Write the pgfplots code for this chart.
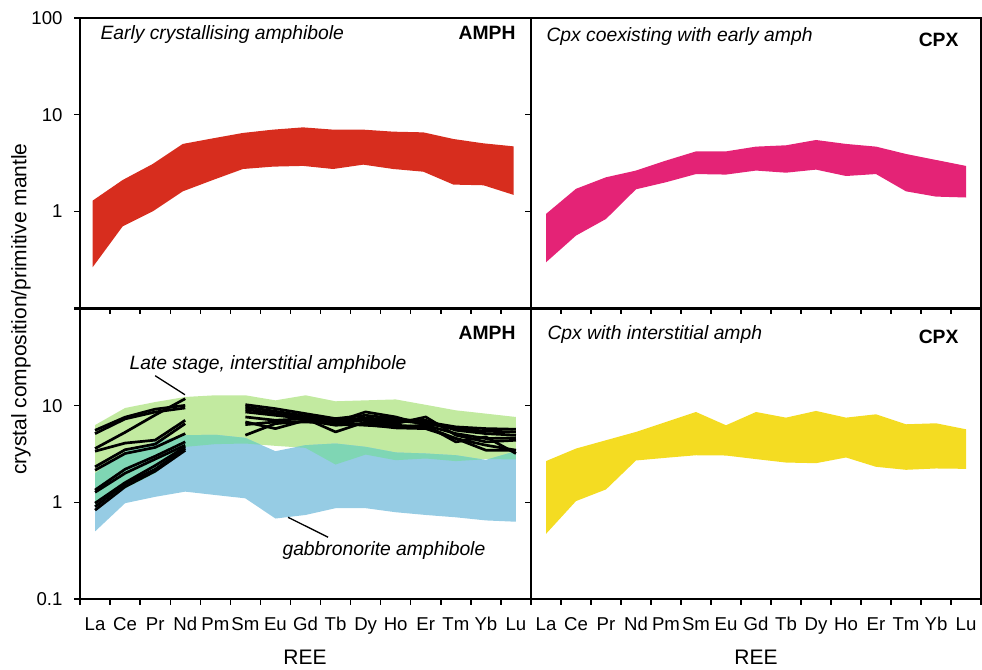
\documentclass[border=0pt]{standalone}
\usepackage{pgfplots}
\pgfplotsset{compat=1.18}
\usepackage{fontspec}
\setmainfont{Liberation Sans}
\definecolor{cred}{HTML}{D72D1E}
\definecolor{cpink}{HTML}{E42376}
\definecolor{cyel}{HTML}{F4DC22}
\definecolor{cgreen}{HTML}{C2EAA0}
\definecolor{cteal}{HTML}{7FD6B4}
\definecolor{cblue}{HTML}{96CCE4}
\newcommand{\fs}{\fontsize{18.6}{22}\selectfont}
\newcommand{\ft}{\fontsize{19.3}{23}\selectfont}
\newcommand{\fl}{\fontsize{21}{25}\selectfont}
\pgfplotsset{
 mypanel/.style={
  scale only axis, width=451pt, height=290pt,
  ymin=0.1, ymax=100, xmin=0.5, xmax=15.5,
  axis line style={line width=1.6pt},
  tick style={black, line width=1.4pt},
  tick align=outside, xtick pos=left, ytick pos=left,
  yminorticks=false, major tick length=6pt,
  xtick={0.5,1.5,...,15.5}, xticklabels={},
  ytick={0.1,1,10,100}, yticklabels={},
  tick label style={font=\fs},
  yticklabel style={xshift=-8pt},
 },
 myree/.style={
  extra x ticks={1,2,...,15},
  extra x tick labels={La,Ce,Pr,Nd,Pm,Sm,Eu,Gd,Tb,Dy,Ho,Er,Tm,Yb,Lu},
  extra x tick style={major tick length=0pt, xticklabel style={anchor=base, yshift=-31pt}},
 },
 myband/.style={draw=none, fill=#1, forget plot},
 myln/.style={black, line width=2.7pt, line join=round, forget plot},
}
\begin{document}
\begin{tikzpicture}
% top left
\begin{semilogyaxis}[mypanel, at={(80pt,361pt)}, anchor=south west, yticklabels={{},1,10,100}]
\addplot[myband=cred] coordinates {(0.92,1.29) (1.92,2.11) (2.92,3.09) (3.92,4.98) (4.92,5.69) (5.92,6.47) (6.92,7.0) (7.92,7.39) (8.92,7.0) (9.92,7.0) (10.92,6.67) (11.92,6.56) (12.92,5.6) (13.92,5.05) (14.92,4.7)
 (14.92,1.48) (13.92,1.86) (12.92,1.89) (11.92,2.57) (10.92,2.74) (9.92,3.04) (8.92,2.74) (7.92,2.95) (6.92,2.9) (5.92,2.74) (4.92,2.11) (3.92,1.61) (2.92,1.0) (1.92,0.70) (0.92,0.264)} -- cycle;
\end{semilogyaxis}
% top right
\begin{semilogyaxis}[mypanel, at={(531pt,361pt)}, anchor=south west, width=450pt]
\addplot[myband=cpink] coordinates {(1,0.94) (2,1.71) (3,2.25) (4,2.64) (5,3.35) (6,4.17) (7,4.17) (8,4.67) (9,4.82) (10,5.47) (11,4.98) (12,4.67) (13,3.92) (14,3.40) (15,2.95)
 (15,1.39) (14,1.42) (13,1.61) (12,2.43) (11,2.32) (10,2.70) (9,2.51) (8,2.64) (7,2.40) (6,2.43) (5,2.0) (4,1.69) (3,0.834) (2,0.561) (1,0.297)} -- cycle;
\end{semilogyaxis}
% bottom left
\begin{semilogyaxis}[mypanel, myree, at={(80pt,70pt)}, anchor=south west, yticklabels={0.1,1,10,{}}]
\addplot[myband=cgreen] coordinates {(1,6.3) (2,9.46) (3,10.9) (4,12.3) (5,12.8) (6,12.8) (7,11.35) (8,12.8) (9,11.1) (10,11.35) (11,11.6) (12,10.2) (13,8.95) (14,8.27) (15,7.64)
 (15,2.78) (14,2.8) (13,2.67) (12,2.84) (11,2.73) (10,3.12) (9,2.46) (8,3.66) (7,3.84) (6,4.06) (5,4.0) (4,3.75) (3,2.0) (2,1.39) (1,0.94)} -- cycle;
\addplot[myband=cblue] coordinates {(1,1.99) (2,3.33) (3,4.22) (4,4.94) (5,5.0) (6,4.64) (7,3.38) (8,3.9) (9,4.06) (10,3.75) (11,3.28) (12,3.2) (13,3.07) (14,2.75) (15,3.38)
 (15,0.63) (14,0.65) (13,0.70) (12,0.74) (11,0.79) (10,0.87) (9,0.87) (8,0.74) (7,0.68) (6,1.1) (5,1.19) (4,1.29) (3,1.14) (2,0.98) (1,0.50)} -- cycle;
\addplot[myband=cteal] coordinates {(1,1.99) (2,3.33) (3,4.22) (4,4.94) (5,5.0) (6,4.64) (6.518,3.94) (6,4.06) (5,4.0) (4,3.75) (3,2.0) (2,1.39) (1,0.94)} -- cycle;
\addplot[myband=cteal] coordinates {(7.667,3.72) (8,3.9) (9,4.06) (10,3.75) (11,3.28) (12,3.2) (13,3.07) (13.883,2.78) (13,2.67) (12,2.84) (11,2.73) (10,3.12) (9,2.46) (8,3.66)} -- cycle;
\addplot[myband=cteal] coordinates {(14.086,2.80) (15,3.38) (15,2.78)} -- cycle;
% late-stage interstitial amphibole, La-Nd
\addplot[myln] coordinates {(1,5.56) (2,7.6) (3,9.2) (4,10.07)};
\addplot[myln] coordinates {(1,5.14) (2,7.3) (3,8.6) (4,9.47)};
\addplot[myln] coordinates {(1,3.6) (2,5.3) (3,8.0) (4,11.8)};
\addplot[myln] coordinates {(1,3.38) (2,4.1) (3,4.4) (4,7.06)};
\addplot[myln] coordinates {(1,2.33) (2,3.5) (3,4.0) (4,6.52)};
\addplot[myln] coordinates {(1,2.15) (2,3.2) (3,3.7) (4,5.14)};
\addplot[myln] coordinates {(1,1.34) (2,2.2) (3,3.0) (4,4.22)};
\addplot[myln] coordinates {(1,1.27) (2,2.0) (3,2.8) (4,3.9)};
\addplot[myln] coordinates {(1,0.98) (2,1.6) (3,2.4) (4,3.75)};
\addplot[myln] coordinates {(1,0.90) (2,1.55) (3,2.2) (4,3.6)};
\addplot[myln] coordinates {(1,0.83) (2,1.45) (3,2.1) (4,3.45)};
% Sm-Lu
\addplot[myln] coordinates {(6,10.24) (7,9.31) (8,8.27) (9,7.35) (10,7.95) (11,7.35) (12,6.79) (13,6.03) (14,5.79) (15,5.70)};
\addplot[myln] coordinates {(6,9.69) (7,8.74) (8,7.83) (9,7.06) (10,7.46) (11,7.06) (12,6.52) (13,5.79) (14,5.44) (15,5.35)};
\addplot[myln] coordinates {(6,9.17) (7,8.27) (8,7.46) (9,6.90) (10,7.06) (11,6.79) (12,7.06) (13,5.57) (14,5.14) (15,4.95)};
\addplot[myln] coordinates {(6,8.61) (7,7.95) (8,7.35) (9,6.79) (10,8.61) (11,7.64) (12,6.27) (13,5.14) (14,4.57) (15,4.64)};
\addplot[myln] coordinates {(6,7.64) (7,7.06) (8,7.35) (9,5.35) (10,6.79) (11,6.52) (12,7.64) (13,4.95) (14,4.22) (15,4.39)};
\addplot[myln] coordinates {(6,6.79) (7,5.79) (8,7.06) (9,6.27) (10,6.52) (11,6.27) (12,6.03) (13,4.57) (14,3.46) (15,3.46)};
\addplot[myln] coordinates {(6,6.37) (7,6.79) (8,6.79) (9,6.52) (10,6.27) (11,6.03) (12,6.27) (13,4.22) (14,4.75) (15,3.20)};
\addplot[myln] coordinates {(6,4.95) (7,6.52) (8,6.90) (9,6.79) (10,6.37) (11,5.89) (12,5.79) (13,4.57) (14,3.90) (15,3.46)};
% pointers
\addplot[black, line width=1.3pt, forget plot] coordinates {(3.0,20.4) (3.99,12.98)};
\addplot[black, line width=1.3pt, forget plot] coordinates {(7.42,0.70) (8.75,0.436)};
\end{semilogyaxis}
% bottom right
\begin{semilogyaxis}[mypanel, myree, at={(531pt,70pt)}, anchor=south west, width=450pt]
\addplot[myband=cyel] coordinates {(1,2.67) (2,3.6) (3,4.39) (4,5.35) (5,6.79) (6,8.6) (7,6.27) (8,8.6) (9,7.52) (10,8.82) (11,7.52) (12,8.14) (13,6.42) (14,6.57) (15,5.70)
 (15,2.22) (14,2.24) (13,2.17) (12,2.33) (11,2.91) (10,2.54) (9,2.58) (8,2.80) (7,3.05) (6,3.07) (5,2.89) (4,2.71) (3,1.36) (2,1.03) (1,0.472)} -- cycle;
\end{semilogyaxis}
% texts
\node[anchor=base west, font=\ft\itshape] at (97pt,629.5pt) {Early crystallising amphibole};
\node[anchor=base east, font=\ft\bfseries] at (519pt,629.5pt) {AMPH};
\node[anchor=base west, font=\ft\itshape] at (543pt,627.5pt) {Cpx coexisting with early amph};
\node[anchor=base east, font=\ft\bfseries] at (962pt,622.5pt) {CPX};
\node[anchor=base east, font=\ft\bfseries] at (519pt,329.5pt) {AMPH};
\node[anchor=base west, font=\ft\itshape] at (544pt,329.5pt) {Cpx with interstitial amph};
\node[anchor=base east, font=\ft\bfseries] at (962pt,325.5pt) {CPX};
\node[anchor=base west, font=\ft\itshape] at (126pt,299pt) {Late stage, interstitial amphibole};
\node[anchor=base west, font=\ft\itshape] at (279pt,113pt) {gabbronorite amphibole};
\node[font=\fl] at (305pt,12pt) {REE};
\node[font=\fl] at (756pt,12pt) {REE};
\node[font=\fl, rotate=90] at (21pt,360pt) {crystal composition/primitive mantle};
\pgfresetboundingbox
\useasboundingbox (0pt,0pt) rectangle (982pt,669pt);
\end{tikzpicture}
\end{document}
